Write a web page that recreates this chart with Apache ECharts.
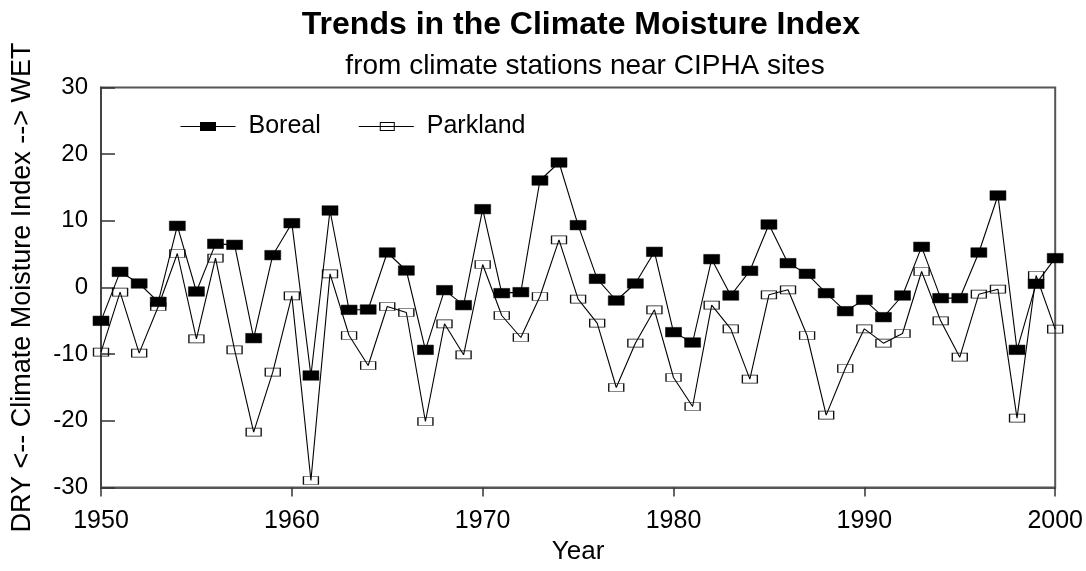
<!DOCTYPE html>
<html>
<head>
<meta charset="utf-8">
<script src="https://cdn.jsdelivr.net/npm/echarts@6/dist/echarts.min.js"></script>
<style>
  html, body { margin: 0; padding: 0; background: #fff; }
  #chart { width: 1086px; height: 571px; }
</style>
</head>
<body>
<div id="chart"></div>
<script>
// Climate Moisture Index by year, 1950-2000
const years = [];
for (let y = 1950; y <= 2000; y++) years.push(y);

const boreal = [
  -5.0, 2.35, 0.6, -2.15, 9.25, -0.6, 6.55, 6.4, -7.6, 4.85,
  9.65, -13.2, 11.55, -3.35, -3.3, 5.25, 2.55, -9.35, -0.4, -2.65,
  11.75, -0.85, -0.7, 16.05, 18.75, 9.35, 1.3, -1.95, 0.6, 5.35,
  -6.7, -8.25, 4.25, -1.2, 2.5, 9.45, 3.65, 2.05, -0.85, -3.55,
  -1.85, -4.45, -1.2, 6.1, -1.6, -1.6, 5.25, 13.8, -9.35, 0.55,
  4.4
];

const parkland = [
  -9.7, -0.7, -9.85, -2.85, 5.1, -7.7, 4.4, -9.35, -21.7, -12.7,
  -1.25, -28.95, 2.05, -7.2, -11.7, -2.85, -3.75, -20.1, -5.45, -10.1,
  3.45, -4.2, -7.5, -1.35, 7.15, -1.75, -5.35, -15.0, -8.35, -3.35,
  -13.5, -17.85, -2.65, -6.2, -13.75, -1.1, -0.35, -7.2, -19.15, -12.15,
  -6.2, -8.35, -6.9, 2.4, -5.0, -10.45, -1.0, -0.25, -19.6, 1.8,
  -6.25
];

const yTicks = [-30, -20, -10, 0, 10, 20, 30];

const pairs = arr => years.map((y, i) => [y, arr[i]]);
const FONT = '"Liberation Sans", Arial, sans-serif';

// Legend keys: a line running through a filled / outlined box (55 x 10 units)
const iconFilled = 'path://M0,4.5H55V5.5H0Z M19.5,0.5H35.5V9.5H19.5Z';
const iconOutline = 'path://M0,4.5H55V5.5H0Z M21,0.5H36V1.5H21Z M21,8.5H36V9.5H21Z ' +
  'M21,0.5H22V9.5H21Z M35,0.5H36V9.5H35Z M0,0H0.01V10H0Z M54.99,0H55V10H54.99Z';

const chart = echarts.init(document.getElementById('chart'));
chart.setOption({
  animation: false,
  backgroundColor: '#fff',
  title: [
    {
      text: 'Trends in the Climate Moisture Index',
      left: 576, top: 4, textAlign: 'center',
      textStyle: { fontFamily: FONT, fontSize: 32, fontWeight: 'bold', color: '#000' }
    },
    {
      text: 'from climate stations near CIPHA sites',
      left: 580, top: 47, textAlign: 'center',
      textStyle: { fontFamily: FONT, fontSize: 28, fontWeight: 'normal', color: '#000' }
    }
  ],
  legend: {
    left: 175.5, top: 109,
    itemWidth: 55, itemHeight: 10, itemGap: 38,
    textStyle: { fontFamily: FONT, fontSize: 25, color: '#000', padding: [0, 0, 0, 8] },
    data: [
      { name: 'Boreal', icon: iconFilled, itemStyle: { color: '#000', borderWidth: 0 } },
      { name: 'Parkland', icon: iconOutline, itemStyle: { color: '#000', borderWidth: 0 } }
    ]
  },
  grid: {
    left: 101, right: 28.5, top: 87.5, bottom: 83.5,
    show: true, borderColor: '#555', borderWidth: 2
  },
  xAxis: {
    type: 'value', min: 1950, max: 2000, interval: 10,
    name: 'Year', nameLocation: 'middle', nameGap: 49,
    nameTextStyle: { fontFamily: FONT, fontSize: 26, color: '#000' },
    axisLine: { show: true, onZero: false, lineStyle: { color: '#555', width: 2 } },
    axisTick: { show: true, inside: false, length: 9, lineStyle: { color: '#333', width: 1.5 } },
    axisLabel: { fontFamily: FONT, fontSize: 25, color: '#000', margin: 21, formatter: v => String(v) },
    splitLine: { show: false }
  },
  yAxis: {
    type: 'value', min: yTicks[0], max: yTicks[yTicks.length - 1], interval: 10,
    name: 'DRY <-- Climate Moisture Index --> WET', nameLocation: 'middle', nameGap: 65,
    nameTextStyle: { fontFamily: FONT, fontSize: 27, color: '#000' },
    axisLine: { show: true, onZero: false, lineStyle: { color: '#444', width: 2 } },
    axisTick: { show: true, inside: true, length: 14, lineStyle: { color: '#333', width: 1.5 } },
    axisLabel: { fontFamily: FONT, fontSize: 24, color: '#000', margin: 13 },
    splitLine: { show: false }
  },
  series: [
    {
      name: 'Parkland', type: 'line', data: pairs(parkland), z: 2,
      symbol: 'rect', symbolSize: [15, 8],
      lineStyle: { color: '#000', width: 1.1 },
      itemStyle: { color: 'rgba(255,255,255,0)', borderColor: '#111', borderWidth: 1 }
    },
    {
      name: 'Boreal', type: 'line', data: pairs(boreal), z: 3,
      symbol: 'rect', symbolSize: [16, 9.5],
      lineStyle: { color: '#000', width: 1.1 },
      itemStyle: { color: '#000', borderColor: '#000', borderWidth: 0.5 }
    }
  ]
});
</script>
</body>
</html>
